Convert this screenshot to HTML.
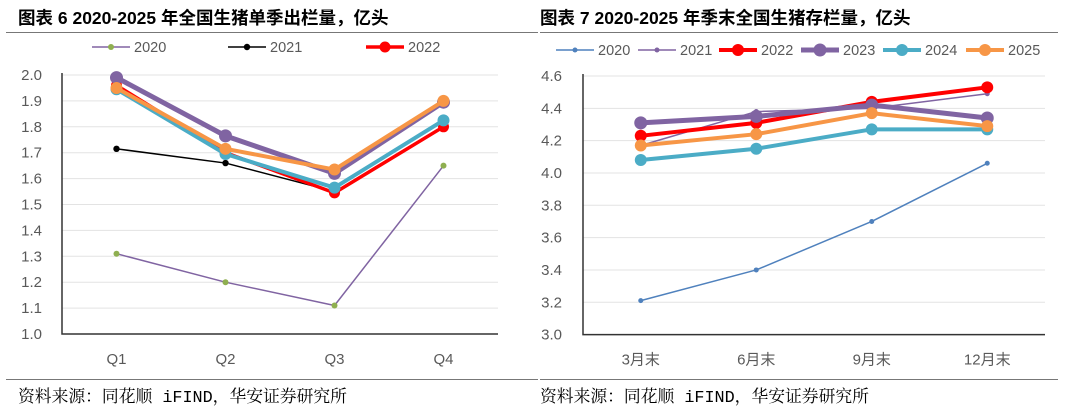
<!DOCTYPE html>
<html><head><meta charset="utf-8">
<style>
body{margin:0;background:#fff;width:1080px;height:414px;overflow:hidden;font-family:"Liberation Sans","Noto Sans CJK SC",sans-serif;}
svg{position:absolute;left:0;top:0;}
</style></head>
<body>
<svg id="chart" width="1080" height="414">
<text x="18" y="24" font-size="17.5" font-weight="bold" fill="#000">图表 6 2020-2025 年全国生猪单季出栏量，亿头</text>
<text x="540" y="24" font-size="17.5" font-weight="bold" fill="#000">图表 7 2020-2025 年季末全国生猪存栏量，亿头</text>
<line x1="6" y1="32.5" x2="538" y2="32.5" stroke="#777" stroke-width="1"/>
<line x1="540" y1="32.5" x2="1058" y2="32.5" stroke="#777" stroke-width="1"/>
<line x1="6" y1="379.5" x2="538" y2="379.5" stroke="#777" stroke-width="1"/>
<line x1="540" y1="379.5" x2="1058" y2="379.5" stroke="#777" stroke-width="1"/>
<text x="18" y="402" font-size="16.8" fill="#000" font-family="'Liberation Mono','Noto Serif CJK SC',serif">资料来源：同花顺 iFIND，华安证券研究所</text>
<text x="540" y="402" font-size="16.8" fill="#000" font-family="'Liberation Mono','Noto Serif CJK SC',serif">资料来源：同花顺 iFIND，华安证券研究所</text>
</svg>
<script>
// Left chart data
const leftCategories = ["Q1","Q2","Q3","Q4"];
const leftTicks = ["1.0","1.1","1.2","1.3","1.4","1.5","1.6","1.7","1.8","1.9","2.0"];
const left2020 = [1.31, 1.20, 1.11, 1.65];
const left2021 = [1.715, 1.66, 1.55, null];
const left2022 = [1.96, 1.70, 1.545, 1.80];
const left2023 = [1.99, 1.765, 1.62, 1.895];
const left2024 = [1.945, 1.695, 1.565, 1.825];
const left2025 = [1.95, 1.715, 1.635, 1.90];
// Right chart data
const rightCategories = ["3月末","6月末","9月末","12月末"];
const rightTicks = ["3.0","3.2","3.4","3.6","3.8","4.0","4.2","4.4","4.6"];
const right2020 = [3.21, 3.40, 3.70, 4.06];
const right2021 = [4.17, 4.38, 4.40, 4.49];
const right2022 = [4.23, 4.31, 4.44, 4.53];
const right2023 = [4.31, 4.35, 4.42, 4.34];
const right2024 = [4.08, 4.15, 4.27, 4.27];
const right2025 = [4.17, 4.24, 4.37, 4.29];

const NS="http://www.w3.org/2000/svg";
const svg=document.getElementById('chart');
function mk(tag,attrs,parent){const e=document.createElementNS(NS,tag);for(const k in attrs)e.setAttribute(k,attrs[k]);(parent||svg).appendChild(e);return e;}

function drawChart(cfg){
  const g=mk('g',{});
  
  
  const ymin=parseFloat(cfg.ticks[0]),ymax=parseFloat(cfg.ticks[cfg.ticks.length-1]);
  const yScale=v=>cfg.y1-(v-ymin)/(ymax-ymin)*(cfg.y1-cfg.y0);
  const band=(cfg.x1-cfg.x0)/cfg.cats.length;
  const xScale=i=>cfg.x0+band*(i+0.5);
  cfg.ticks.forEach(t=>{
    const y=yScale(parseFloat(t));
    if(parseFloat(t)!==ymin){
      const gl=mk('line',{x1:cfg.x0,x2:cfg.x1,y1:y,y2:y,stroke:'#e3e3e3','stroke-width':1},g);
      
      
    }
    const tx=mk('text',{x:cfg.x0-cfg.tickGap,y:y+5,'font-size':15,fill:'#595959','text-anchor':'end'},g);
    tx.textContent=t;
    
    
  });
  const ax=mk('path',{d:`M${cfg.x0} ${cfg.y0-2} V${cfg.y1} H${cfg.x1}`,fill:'none',stroke:'#333','stroke-width':1.5},g);
  
  
  cfg.cats.forEach((c,i)=>{
    const tx=mk('text',{x:xScale(i),y:cfg.y1+30,'font-size':15,fill:'#595959','text-anchor':'middle'},g);
    tx.textContent=c;
    
    
  });
  cfg.series.forEach(s=>{
    let d='';
    s.data.forEach((v,i)=>{if(v==null)return;d+=(d?'L':'M')+xScale(i)+' '+yScale(v)+' ';});
    const p=mk('path',{d:d,fill:'none',stroke:s.color,'stroke-width':s.w,'stroke-linejoin':'round'},g);
    
    
    s.data.forEach((v,i)=>{if(v==null)return;
      const c=mk('circle',{cx:xScale(i),cy:yScale(v),r:s.r,fill:s.mfill||s.color},g);
      
      
    });
  });
  cfg.series.forEach((s,i)=>{
    if(i>=cfg.legX.length)return;
    const lx=cfg.legX[i];
    const lg=mk('g',{},g);
    
    
    mk('line',{x1:lx,x2:lx+38,y1:cfg.legY,y2:cfg.legY,stroke:s.color,'stroke-width':s.w},lg);
    mk('circle',{cx:lx+19,cy:cfg.legY,r:s.r,fill:s.mfill||s.color},lg);
    const t=mk('text',{x:lx+42,y:cfg.legY+5,'font-size':14.5,fill:'#595959'},lg);
    t.textContent=s.label;
  });
}

drawChart({name:'left-chart',x0:62,x1:498,y0:75,y1:334,tickGap:20,ticks:leftTicks,cats:leftCategories,legY:47,legX:[92,228,366],
  series:[
    {label:'2020',data:left2020,color:'#8064a2',w:1.5,r:3,mfill:'#8faf50'},
    {label:'2021',data:left2021,color:'#000',w:1.5,r:3.2},
    {label:'2022',data:left2022,color:'#ff0000',w:3.5,r:5.5},
    {label:'2023',data:left2023,color:'#8064a2',w:5,r:6.5},
    {label:'2024',data:left2024,color:'#4bacc6',w:4,r:6},
    {label:'2025',data:left2025,color:'#f79646',w:4,r:6}
  ]});
drawChart({name:'right-chart',x0:583,x1:1045,y0:76,y1:334.6,tickGap:21,ticks:rightTicks,cats:rightCategories,legY:50,legX:[556,638,719,801,883,966],
  series:[
    {label:'2020',data:right2020,color:'#4f81bd',w:1.5,r:2.5},
    {label:'2021',data:right2021,color:'#8064a2',w:1.5,r:2.5},
    {label:'2022',data:right2022,color:'#ff0000',w:4,r:6},
    {label:'2023',data:right2023,color:'#8064a2',w:5,r:6.5},
    {label:'2024',data:right2024,color:'#4bacc6',w:4,r:6},
    {label:'2025',data:right2025,color:'#f79646',w:4,r:6}
  ]});
</script>
</body></html>
